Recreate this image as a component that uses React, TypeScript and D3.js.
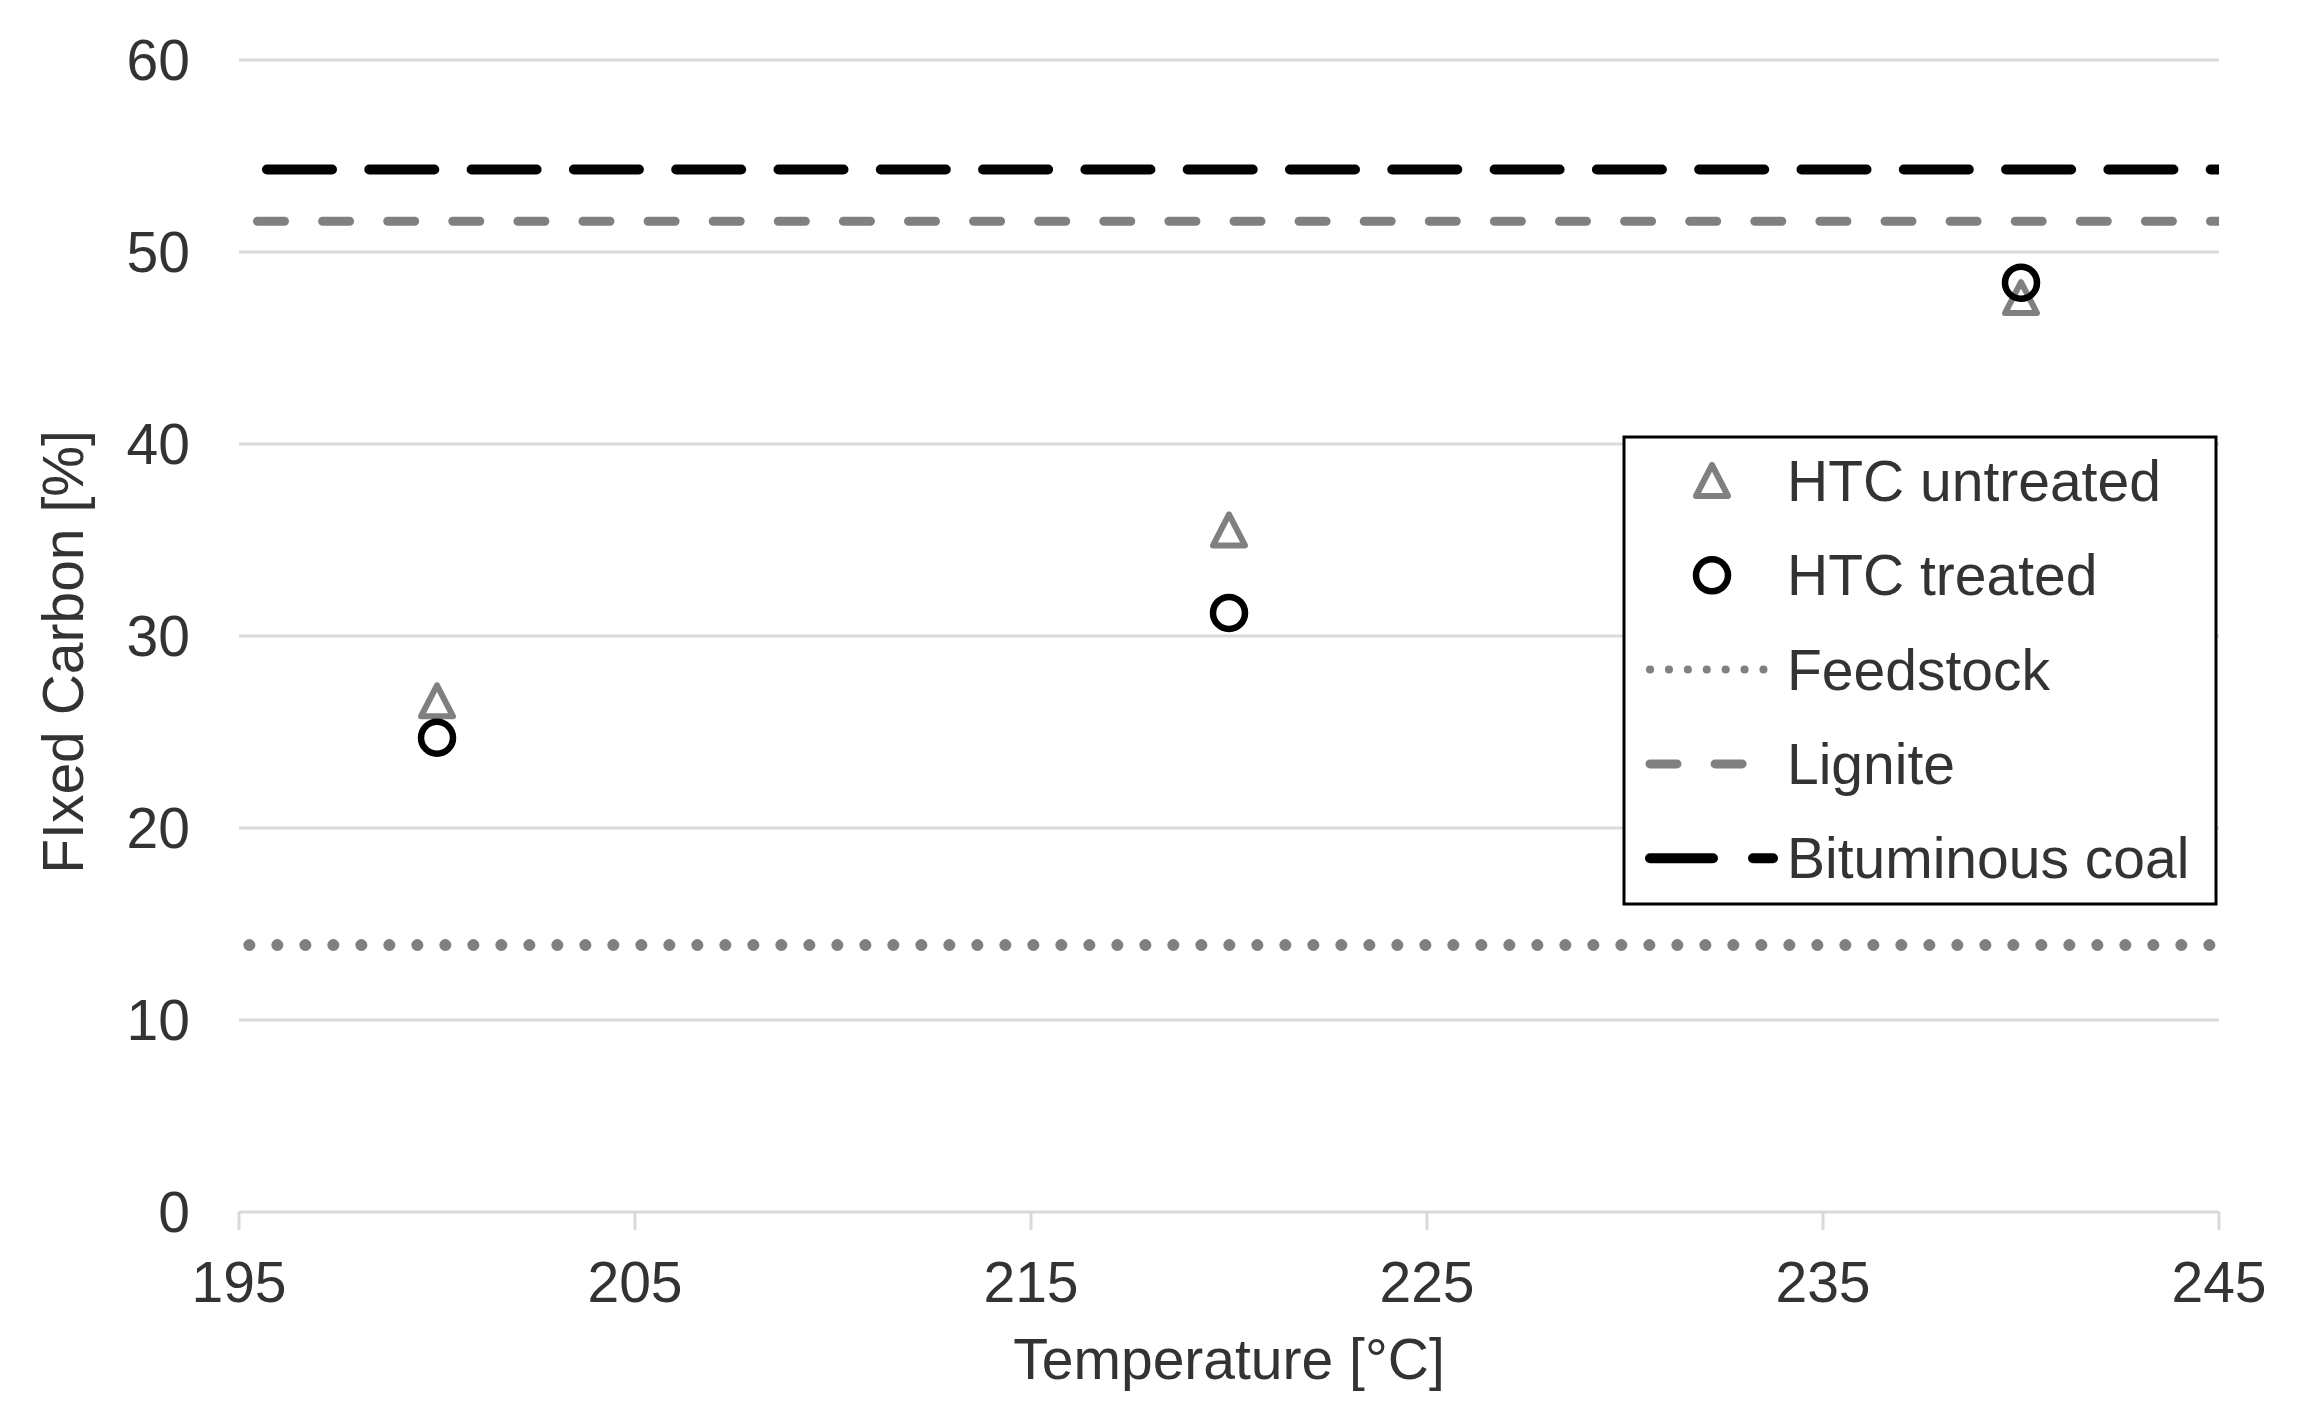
import React from "react";
import * as d3 from "d3";

// Temperatures of the HTC runs
const temperatures = [200, 220, 240];
// Fixed carbon (%) of the hydrochars
const htcUntreated = [26.6, 35.5, 47.6];
const htcTreated = [24.7, 31.2, 48.4];

// Horizontal reference levels (%)
const feedstockLevel = 13.9;
const ligniteLevel = 51.6;
const bituminousLevel = 54.3;

const xTicks = [195, 205, 215, 225, 235, 245];
const yTicks = [0, 10, 20, 30, 40, 50, 60];

const W = 2300;
const H = 1420;
const margin = { left: 239, right: 81, top: 60, bottom: 208 };

const FONT = "'Liberation Sans', Arial, sans-serif";
const TEXT = "#333333";
const GRID = "#d9d9d9";
const GRAY = "#808080";

const triPath = "M0,-16L16,15L-16,15Z";

const App = () => {
  const x = d3
    .scaleLinear()
    .domain([195, 245])
    .range([margin.left, W - margin.right]);
  const y = d3
    .scaleLinear()
    .domain([0, 60])
    .range([H - margin.bottom, margin.top]);

  const hline = d3
    .line<number>()
    .x((d) => x(d))
    .y(0);

  const refLines = [
    {
      name: "Feedstock",
      value: feedstockLevel,
      color: GRAY,
      width: 12,
      dash: "0.1 27.9",
      offset: -10.3,
    },
    {
      name: "Lignite",
      value: ligniteLevel,
      color: GRAY,
      width: 9,
      dash: "27 38.1",
      offset: 46.6,
    },
    {
      name: "Bituminous coal",
      value: bituminousLevel,
      color: "#000000",
      width: 10,
      dash: "65 37.3",
      offset: 74.3,
    },
  ];

  // legend
  const lgX = 1624;
  const lgY = 437;
  const lgW = 592;
  const lgH = 467;
  const rowY = (i) => 481 + i * 94.3;
  const symX = 1712;
  const textX = 1787;

  const legendLines = [
    { label: "Feedstock", color: GRAY, width: 8, dash: "0.1 18.8" },
    { label: "Lignite", color: GRAY, width: 9, dash: "27 38.1" },
    { label: "Bituminous coal", color: "#000", width: 10, dash: "63 40" },
  ];

  return (
    <svg
      width={W}
      height={H}
      style={{ position: "absolute", left: 0, top: 0, background: "#fff" }}
      fontFamily={FONT}
    >
      <defs>
        <clipPath id="plot-clip">
          <rect
            x={x(195)}
            y={margin.top - 20}
            width={x(245) - x(195)}
            height={H - margin.top - margin.bottom + 40}
          />
        </clipPath>
      </defs>

      {/* gridlines */}
      {yTicks.map((t) => (
        <line
          key={`g${t}`}
          x1={x(195)}
          x2={x(245)}
          y1={y(t)}
          y2={y(t)}
          stroke={GRID}
          strokeWidth={3}
        />
      ))}

      {/* x tick marks */}
      {xTicks.map((t) => (
        <line
          key={`xt${t}`}
          x1={x(t)}
          x2={x(t)}
          y1={y(0)}
          y2={y(0) + 18}
          stroke={GRID}
          strokeWidth={3}
        />
      ))}

      {/* y tick labels */}
      {yTicks.map((t) => (
        <text
          key={`yl${t}`}
          x={190}
          y={y(t)}
          dy="0.35em"
          textAnchor="end"
          fontSize={57}
          fill={TEXT}
        >
          {t}
        </text>
      ))}

      {/* x tick labels */}
      {xTicks.map((t) => (
        <text
          key={`xl${t}`}
          x={x(t)}
          y={1302}
          textAnchor="middle"
          fontSize={57}
          fill={TEXT}
        >
          {t}
        </text>
      ))}

      {/* axis titles */}
      <text
        x={(x(195) + x(245)) / 2}
        y={1379}
        textAnchor="middle"
        fontSize={57}
        fill={TEXT}
      >
        Temperature [°C]
      </text>
      <text
        transform={`translate(83,${(y(0) + y(60)) / 2 + 16}) rotate(-90)`}
        textAnchor="middle"
        fontSize={57}
        fill={TEXT}
      >
        FIxed Carbon [%]
      </text>

      {/* reference lines */}
      <g clipPath="url(#plot-clip)">
        {refLines.map((r) => (
          <path
            key={r.name}
            d={hline([195, 245]) || ""}
            transform={`translate(0,${y(r.value)})`}
            fill="none"
            stroke={r.color}
            strokeWidth={r.width}
            strokeDasharray={r.dash}
            strokeDashoffset={r.offset}
            strokeLinecap="round"
          />
        ))}
      </g>

      {/* HTC untreated */}
      {temperatures.map((t, i) => (
        <path
          key={`u${t}`}
          d={triPath}
          transform={`translate(${x(t)},${y(htcUntreated[i])})`}
          fill="none"
          stroke={GRAY}
          strokeWidth={6}
          strokeLinejoin="round"
        />
      ))}

      {/* HTC treated */}
      {temperatures.map((t, i) => (
        <circle
          key={`t${t}`}
          cx={x(t)}
          cy={y(htcTreated[i])}
          r={16}
          fill="none"
          stroke="#000"
          strokeWidth={6.5}
        />
      ))}

      {/* legend */}
      <rect
        x={lgX}
        y={lgY}
        width={lgW}
        height={lgH}
        fill="#fff"
        stroke="#000"
        strokeWidth={3}
      />
      <path
        d={triPath}
        transform={`translate(${symX},${rowY(0)})`}
        fill="none"
        stroke={GRAY}
        strokeWidth={6}
        strokeLinejoin="round"
      />
      <circle
        cx={symX}
        cy={rowY(1)}
        r={16}
        fill="none"
        stroke="#000"
        strokeWidth={6.5}
      />
      {legendLines.map((l, i) => (
        <line
          key={l.label}
          x1={1650}
          x2={1773}
          y1={rowY(i + 2)}
          y2={rowY(i + 2)}
          stroke={l.color}
          strokeWidth={l.width}
          strokeDasharray={l.dash}
          strokeLinecap="round"
        />
      ))}
      {["HTC untreated", "HTC treated", "Feedstock", "Lignite", "Bituminous coal"].map(
        (s, i) => (
          <text
            key={s}
            x={textX}
            y={rowY(i)}
            dy="0.35em"
            fontSize={57}
            fill={TEXT}
          >
            {s}
          </text>
        )
      )}
    </svg>
  );
};

export default App;
